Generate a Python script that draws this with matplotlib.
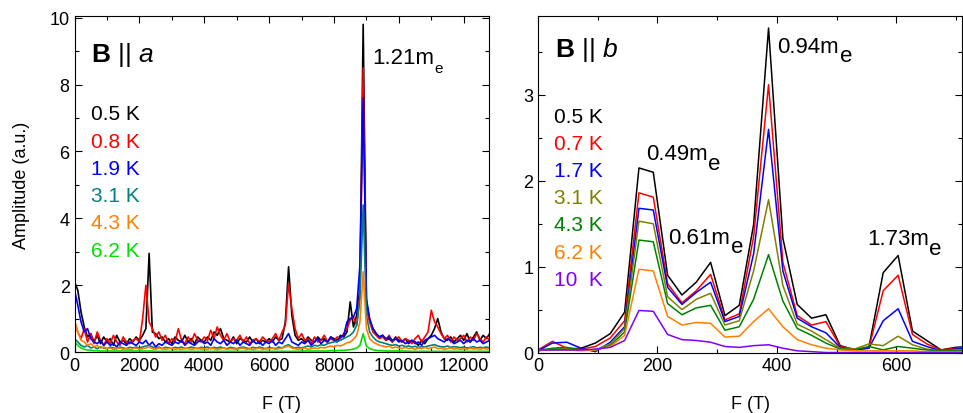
import numpy as np
import matplotlib
matplotlib.use("Agg")
import matplotlib.pyplot as plt
from matplotlib.ticker import MultipleLocator

plt.rcParams['font.family'] = ['Liberation Sans', 'DejaVu Sans']
plt.rcParams['mathtext.fontset'] = 'custom'
plt.rcParams['mathtext.rm'] = 'Liberation Sans'
plt.rcParams['mathtext.it'] = 'Liberation Sans:italic'
plt.rcParams['mathtext.bf'] = 'Liberation Sans:bold'

# ---- B || a : FFT spectra, F grid every 100 T ----
F_a = np.arange(0, 12900, 100)

amp_a_05K = [
    2.10, 1.85, 1.20, 0.75, 0.45, 0.55, 0.30, 0.50, 0.25, 0.45,
    0.30, 0.40, 0.20, 0.50, 0.30, 0.35, 0.25, 0.40, 0.30, 0.45,
    0.35, 0.50, 0.70, 2.95, 0.60, 0.55, 0.40, 0.45, 0.30, 0.40,
    0.25, 0.45, 0.35, 0.30, 0.50, 0.30, 0.40, 0.25, 0.45, 0.35,
    0.30, 0.45, 0.35, 0.60, 0.50, 0.70, 0.40, 0.35, 0.30, 0.45,
    0.25, 0.40, 0.35, 0.30, 0.45, 0.30, 0.40, 0.25, 0.35, 0.30,
    0.40, 0.30, 0.45, 0.35, 0.40, 0.90, 2.55, 1.10, 0.50, 0.35,
    0.40, 0.30, 0.45, 0.35, 0.30, 0.45, 0.35, 0.40, 0.30, 0.45,
    0.40, 0.35, 0.50, 0.45, 0.60, 1.50, 0.75, 1.10, 1.90, 9.80,
    1.50, 0.95, 0.70, 0.55, 0.45, 0.50, 0.35, 0.40, 0.30, 0.45,
    0.35, 0.30, 0.40, 0.25, 0.35, 0.30, 0.20, 0.35, 0.25, 0.40,
    0.50, 0.70, 1.00, 0.60, 0.40, 0.35, 0.45, 0.30, 0.40, 0.50,
    0.35, 0.55, 0.30, 0.45, 0.60, 0.35, 0.50, 0.40, 0.55]
amp_a_08K = [
    0.90, 0.60, 0.40, 0.70, 0.30, 0.55, 0.25, 0.60, 0.35, 0.20,
    0.40, 0.25, 0.50, 0.30, 0.20, 0.45, 0.30, 0.25, 0.35, 0.40,
    0.30, 1.00, 2.00, 0.90, 0.70, 0.45, 0.60, 0.35, 0.50, 0.25,
    0.40, 0.30, 0.70, 0.35, 0.25, 0.45, 0.30, 0.55, 0.35, 0.30,
    0.45, 0.35, 0.65, 0.40, 0.75, 0.50, 0.35, 0.55, 0.30, 0.40,
    0.35, 0.50, 0.30, 0.45, 0.25, 0.35, 0.40, 0.30, 0.45, 0.35,
    0.30, 0.40, 0.55, 0.35, 0.60, 0.80, 2.05, 1.30, 0.70, 0.40,
    0.55, 0.35, 0.40, 0.25, 0.45, 0.30, 0.35, 0.50, 0.30, 0.40,
    0.35, 0.45, 0.40, 0.55, 0.70, 0.95, 1.05, 0.80, 1.70, 8.50,
    1.30, 0.90, 0.60, 0.50, 0.40, 0.45, 0.35, 0.50, 0.30, 0.40,
    0.45, 0.30, 0.40, 0.35, 0.25, 0.40, 0.50, 0.30, 0.45, 0.60,
    1.25, 0.90, 0.75, 0.55, 0.40, 0.50, 0.30, 0.45, 0.35, 0.40,
    0.50, 0.30, 0.45, 0.35, 0.55, 0.40, 0.30, 0.45, 0.35]
amp_a_19K = [
    1.85, 1.40, 0.90, 0.60, 0.70, 0.40, 0.30, 0.25, 0.35, 0.20,
    0.30, 0.20, 0.25, 0.15, 0.30, 0.25, 0.20, 0.30, 0.25, 0.20,
    0.30, 0.25, 0.35, 0.20, 0.30, 0.15, 0.25, 0.20, 0.30, 0.25,
    0.20, 0.30, 0.25, 0.35, 0.20, 0.30, 0.25, 0.20, 0.30, 0.35,
    0.25, 0.30, 0.20, 0.40, 0.30, 0.25, 0.35, 0.20, 0.30, 0.25,
    0.35, 0.20, 0.30, 0.25, 0.20, 0.35, 0.25, 0.30, 0.20, 0.30,
    0.25, 0.35, 0.20, 0.30, 0.25, 0.40, 0.55, 0.30, 0.25, 0.20,
    0.30, 0.25, 0.35, 0.20, 0.30, 0.40, 0.25, 0.35, 0.30, 0.45,
    0.35, 0.30, 0.45, 0.50, 0.90, 1.00, 1.05, 1.30, 2.60, 7.60,
    1.60, 1.00, 0.70, 0.55, 0.45, 0.50, 0.40, 0.45, 0.35, 0.40,
    0.30, 0.35, 0.25, 0.30, 0.35, 0.25, 0.30, 0.20, 0.35, 0.40,
    0.45, 0.50, 0.40, 0.35, 0.30, 0.40, 0.35, 0.25, 0.30, 0.35,
    0.25, 0.35, 0.30, 0.40, 0.30, 0.35, 0.25, 0.30, 0.35]
amp_a_31K = [
    0.40, 0.30, 0.20, 0.15, 0.20, 0.12, 0.15, 0.10, 0.15, 0.12,
    0.10, 0.15, 0.12, 0.10, 0.15, 0.12, 0.10, 0.14, 0.12, 0.15,
    0.12, 0.15, 0.18, 0.20, 0.15, 0.12, 0.15, 0.10, 0.14, 0.12,
    0.10, 0.14, 0.12, 0.15, 0.10, 0.12, 0.15, 0.12, 0.10, 0.14,
    0.12, 0.15, 0.10, 0.14, 0.12, 0.15, 0.12, 0.10, 0.14, 0.12,
    0.10, 0.13, 0.15, 0.12, 0.10, 0.14, 0.12, 0.15, 0.12, 0.10,
    0.14, 0.12, 0.10, 0.15, 0.12, 0.18, 0.22, 0.15, 0.12, 0.14,
    0.12, 0.15, 0.18, 0.15, 0.20, 0.18, 0.22, 0.20, 0.25, 0.28,
    0.30, 0.32, 0.35, 0.40, 0.45, 0.50, 0.60, 0.80, 1.60, 4.40,
    1.10, 0.60, 0.45, 0.35, 0.30, 0.28, 0.25, 0.22, 0.20, 0.22,
    0.18, 0.20, 0.16, 0.18, 0.15, 0.17, 0.14, 0.16, 0.15, 0.18,
    0.20, 0.22, 0.18, 0.16, 0.15, 0.18, 0.14, 0.16, 0.15, 0.13,
    0.15, 0.12, 0.14, 0.16, 0.12, 0.14, 0.13, 0.15, 0.12]
amp_a_43K = [
    0.95, 0.60, 0.35, 0.30, 0.20, 0.25, 0.15, 0.20, 0.12, 0.15,
    0.10, 0.12, 0.08, 0.10, 0.12, 0.08, 0.10, 0.07, 0.10, 0.12,
    0.08, 0.10, 0.12, 0.15, 0.10, 0.08, 0.12, 0.10, 0.08, 0.10,
    0.12, 0.08, 0.10, 0.07, 0.12, 0.10, 0.08, 0.10, 0.12, 0.08,
    0.10, 0.08, 0.12, 0.10, 0.07, 0.10, 0.12, 0.08, 0.10, 0.09,
    0.08, 0.10, 0.12, 0.08, 0.10, 0.07, 0.10, 0.12, 0.08, 0.10,
    0.09, 0.12, 0.08, 0.10, 0.12, 0.15, 0.18, 0.12, 0.10, 0.08,
    0.10, 0.12, 0.08, 0.10, 0.12, 0.10, 0.14, 0.12, 0.15, 0.18,
    0.15, 0.20, 0.18, 0.22, 0.28, 0.30, 0.38, 0.50, 0.90, 2.40,
    0.70, 0.40, 0.30, 0.25, 0.20, 0.18, 0.15, 0.18, 0.12, 0.15,
    0.12, 0.10, 0.14, 0.10, 0.12, 0.08, 0.12, 0.10, 0.14, 0.10,
    0.12, 0.15, 0.10, 0.12, 0.08, 0.10, 0.12, 0.09, 0.10, 0.08,
    0.10, 0.08, 0.12, 0.09, 0.10, 0.08, 0.11, 0.09, 0.10]
amp_a_62K = [
    0.30, 0.20, 0.12, 0.08, 0.06, 0.05, 0.04, 0.04, 0.03, 0.03,
    0.03, 0.03, 0.03, 0.03, 0.03, 0.03, 0.03, 0.03, 0.03, 0.03,
    0.03, 0.03, 0.03, 0.03, 0.03, 0.02, 0.02, 0.02, 0.02, 0.02,
    0.02, 0.02, 0.02, 0.02, 0.02, 0.02, 0.02, 0.02, 0.02, 0.02,
    0.02, 0.02, 0.02, 0.02, 0.02, 0.02, 0.02, 0.02, 0.02, 0.02,
    0.02, 0.02, 0.02, 0.02, 0.02, 0.02, 0.02, 0.02, 0.02, 0.02,
    0.02, 0.02, 0.02, 0.02, 0.02, 0.02, 0.02, 0.02, 0.02, 0.02,
    0.03, 0.03, 0.03, 0.03, 0.03, 0.03, 0.03, 0.03, 0.03, 0.04,
    0.04, 0.04, 0.05, 0.05, 0.06, 0.07, 0.09, 0.12, 0.20, 0.55,
    0.18, 0.10, 0.07, 0.05, 0.04, 0.04, 0.03, 0.03, 0.03, 0.03,
    0.03, 0.03, 0.03, 0.02, 0.02, 0.02, 0.02, 0.02, 0.02, 0.02,
    0.02, 0.02, 0.02, 0.02, 0.02, 0.02, 0.02, 0.02, 0.02, 0.02,
    0.02, 0.02, 0.02, 0.02, 0.02, 0.02, 0.02, 0.02, 0.02]

labels_a = ['0.5 K', '0.8 K', '1.9 K', '3.1 K', '4.3 K', '6.2 K']
colors_a = ['#000000', '#ff0000', '#0000ff', '#008080', '#ff8000', '#00e000']
series_a = [amp_a_05K, amp_a_08K, amp_a_19K, amp_a_31K, amp_a_43K, amp_a_62K]

# ---- B || b ----
F_b = [0, 24, 48, 72, 96, 121, 145, 169, 193, 217, 241, 265, 289, 313, 337,
       361, 386, 410, 434, 458, 482, 506, 530, 554, 578, 603, 627, 651, 675,
       699, 723]

amp_b_05K = [0.04, 0.03, 0.04, 0.05, 0.11, 0.22, 0.47, 2.15, 2.10, 0.90, 0.67,
             0.82, 1.05, 0.43, 0.55, 1.49, 3.78, 1.33, 0.56, 0.40, 0.44, 0.08,
             0.03, 0.06, 0.93, 1.13, 0.25, 0.14, 0.03, 0.06, 0.07]
amp_b_07K = [0.03, 0.13, 0.05, 0.04, 0.07, 0.17, 0.37, 1.86, 1.81, 0.80, 0.58,
             0.72, 0.91, 0.38, 0.45, 1.35, 3.12, 1.05, 0.43, 0.32, 0.36, 0.07,
             0.04, 0.05, 0.72, 0.90, 0.21, 0.10, 0.03, 0.05, 0.06]
amp_b_17K = [0.02, 0.11, 0.12, 0.05, 0.01, 0.12, 0.30, 1.68, 1.66, 0.76, 0.56,
             0.70, 0.82, 0.36, 0.42, 1.15, 2.60, 0.95, 0.40, 0.30, 0.23, 0.06,
             0.03, 0.05, 0.37, 0.51, 0.13, 0.07, 0.02, 0.04, 0.05]
amp_b_31K = [0.02, 0.04, 0.05, 0.03, 0.03, 0.10, 0.28, 1.53, 1.50, 0.65, 0.50,
             0.62, 0.69, 0.32, 0.37, 0.95, 1.78, 0.78, 0.33, 0.25, 0.15, 0.05,
             0.04, 0.10, 0.08, 0.19, 0.09, 0.04, 0.02, 0.03, 0.03]
amp_b_43K = [0.02, 0.05, 0.06, 0.03, 0.03, 0.08, 0.24, 1.31, 1.29, 0.57, 0.44,
             0.52, 0.55, 0.26, 0.30, 0.62, 1.14, 0.60, 0.28, 0.20, 0.11, 0.04,
             0.03, 0.07, 0.03, 0.07, 0.05, 0.03, 0.02, 0.02, 0.02]
amp_b_62K = [0.03, 0.03, 0.03, 0.02, 0.03, 0.07, 0.20, 0.97, 0.95, 0.42, 0.32,
             0.35, 0.34, 0.18, 0.19, 0.36, 0.51, 0.30, 0.15, 0.09, 0.05, 0.03,
             0.02, 0.02, 0.02, 0.02, 0.02, 0.01, 0.01, 0.01, 0.01]
amp_b_10K = [0.03, 0.03, 0.03, 0.03, 0.04, 0.06, 0.14, 0.49, 0.48, 0.21, 0.15,
             0.14, 0.12, 0.07, 0.06, 0.08, 0.09, 0.05, 0.02, 0.01, 0.00, 0.00,
             0.00, 0.00, 0.00, 0.00, 0.00, 0.00, 0.00, 0.00, 0.00]

labels_b = ['0.5 K', '0.7 K', '1.7 K', '3.1 K', '4.3 K', '6.2 K', '10  K']
colors_b = ['#000000', '#ff0000', '#0000ff', '#808000', '#008000', '#ff8000',
            '#8000ff']
series_b = [amp_b_05K, amp_b_07K, amp_b_17K, amp_b_31K, amp_b_43K, amp_b_62K,
            amp_b_10K]


def style_axes(ax):
    ax.tick_params(which='both', direction='in', top=True, right=True,
                   labelsize=13, width=0.8)
    ax.tick_params(which='major', length=5)
    ax.tick_params(which='minor', length=3)
    for s in ax.spines.values():
        s.set_linewidth(0.8)


def mass_label(ax, x, y, main, sub, size, subsize):
    t = ax.text(x, y, main, fontsize=size, va='baseline', ha='left')
    ax.annotate(sub, xy=(1, 0), xycoords=t, xytext=(0.3, -3.0),
                textcoords='offset points', fontsize=subsize, va='baseline',
                ha='left')


fig = plt.figure(figsize=(9.63, 4.14), dpi=100)
ax1 = fig.add_axes([0.0774, 0.1473, 0.4304, 0.8116])
ax2 = fig.add_axes([0.5587, 0.1461, 0.4403, 0.8128])

for y, c in zip(series_a, colors_a):
    ax1.plot(F_a, y, color=c, lw=1.2)
ax1.set_xlim(0, 12780)
ax1.set_ylim(0, 10.05)
ax1.xaxis.set_major_locator(MultipleLocator(2000))
ax1.xaxis.set_minor_locator(MultipleLocator(1000))
ax1.yaxis.set_major_locator(MultipleLocator(2))
ax1.yaxis.set_minor_locator(MultipleLocator(1))
style_axes(ax1)
ax1.set_xlabel('F (T)', fontsize=13, labelpad=15)
ax1.set_ylabel('Amplitude (a.u.)', fontsize=13, labelpad=14)
ax1.text(500, 8.69, r'$\mathbf{B}\ ||\ \mathit{a}$', fontsize=19,
         va='baseline')
for i, (lab, c) in enumerate(zip(labels_a, colors_a)):
    ax1.text(500, 6.96 - 0.815 * i, lab, color=c, fontsize=15, va='baseline')
mass_label(ax1, 9180, 8.64, '1.21m', 'e', 16, 11)

for y, c in zip(series_b, colors_b):
    ax2.plot(F_b, y, color=c, lw=1.1)
ax2.set_xlim(0, 710)
ax2.set_ylim(0, 3.92)
ax2.xaxis.set_major_locator(MultipleLocator(200))
ax2.xaxis.set_minor_locator(MultipleLocator(100))
ax2.yaxis.set_major_locator(MultipleLocator(1))
ax2.yaxis.set_minor_locator(MultipleLocator(0.5))
style_axes(ax2)
ax2.set_xlabel('F (T)', fontsize=13, labelpad=15)
ax2.text(29, 3.46, r'$\mathbf{B}\ ||\ \mathit{b}$', fontsize=19,
         va='baseline')
for i, (lab, c) in enumerate(zip(labels_b, colors_b)):
    ax2.text(26, 2.69 - 0.3167 * i, lab, color=c, fontsize=15, va='baseline')
mass_label(ax2, 401, 3.50, '0.94m', 'e', 16, 16)
mass_label(ax2, 181, 2.25, '0.49m', 'e', 16, 16)
mass_label(ax2, 218, 1.28, '0.61m', 'e', 16, 16)
mass_label(ax2, 551, 1.26, '1.73m', 'e', 16, 16)

fig.savefig('out.png', dpi=100)
